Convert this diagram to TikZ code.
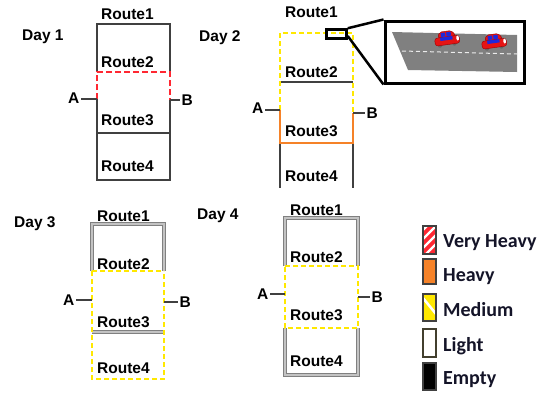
\documentclass[tikz,border=0pt]{standalone}
\usepackage{fontspec}
\setmainfont{Liberation Sans}
\newfontfamily\legendfont{Carlito}
\definecolor{roadgray}{RGB}{64,64,64}
\definecolor{lightout}{RGB}{128,128,128}
\definecolor{lightin}{RGB}{195,195,195}
\definecolor{vhred}{RGB}{255,40,50}
\definecolor{heavyorange}{RGB}{245,130,40}
\definecolor{medyellow}{RGB}{255,232,0}
\definecolor{legendtext}{RGB}{20,20,40}
\definecolor{asphalt}{RGB}{128,128,128}
\definecolor{carred}{RGB}{230,20,20}
\definecolor{carblue}{RGB}{30,40,220}
\begin{document}
\begin{tikzpicture}[x=1pt,y=-1pt,
  road/.style={draw=roadgray, line width=2.3pt, line join=miter},
  vheavy/.style={draw=vhred, line width=2.2pt, dash pattern=on 6pt off 3pt},
  heavy/.style={draw=heavyorange, line width=2.3pt},
  medium/.style={draw=medyellow, line width=2pt, dash pattern=on 5pt off 3pt},
  light/.style={draw=lightout, double=lightin, line width=1.5pt, double distance=1.2pt, line join=miter},
  stub/.style={draw=roadgray, line width=2.3pt},
  lbl/.style={font=\bfseries\fontsize{15.5}{18}\selectfont, text height=11pt, text depth=0pt, inner sep=1pt, anchor=west},
  pin/.style={font=\bfseries\fontsize{15.5}{18}\selectfont, text height=11pt, text depth=0pt, inner sep=1.5pt},
  legtxt/.style={font=\legendfont\bfseries\fontsize{20}{24}\selectfont, text=legendtext, text height=12.9pt, text depth=0pt, inner sep=0pt, anchor=west},
  swatch/.style={draw=black!75, line width=1.2pt},
  frame/.style={draw=black, line width=3pt},
]
\useasboundingbox (0,0) rectangle (559,392);

% ---------------- Day 1 ----------------
\node[lbl] (d1) at (21,35) {Day 1};
\coordinate (d1tl) at (97,24);  \coordinate (d1tr) at (170,24);
\coordinate (d1r2l) at (97,72); \coordinate (d1r2r) at (170,72);
\coordinate (d1a) at (97,99);   \coordinate (d1b) at (170,100);
\coordinate (d1r3l) at (97,133);\coordinate (d1r3r) at (170,133);
\coordinate (d1bl) at (97,180); \coordinate (d1br) at (170,180);
\draw[road] (d1r2l) -- (d1tl) -- (d1tr) -- (d1r2r);
\draw[road] (d1a) -- (d1bl) -- (d1br) -- (d1b);
\draw[road] (d1r3l) -- (d1r3r);
\draw[vheavy] (d1a) -- (d1r2l) -- (d1r2r) -- (d1b);
\node[lbl] (d1r1) at (100,14) {Route1};
\node[lbl] (d1r2) at (100,62) {Route2};
\node[lbl] (d1r3) at (100,120) {Route3};
\node[lbl] (d1r4) at (100,166) {Route4};
\node[pin, anchor=east] (d1A) at (81,98) {A};
\node[pin, anchor=west] (d1B) at (180,100) {B};
\draw[stub] (d1a) -- (d1a -| d1A.east);
\draw[stub] (d1b) -- (d1b -| d1B.west);

% ---------------- Day 2 ----------------
\node[lbl] (d2) at (198,36) {Day 2};
\coordinate (d2tl) at (280,33);  \coordinate (d2tr) at (353,33);
\coordinate (d2r2l) at (280,82); \coordinate (d2r2r) at (353,82);
\coordinate (d2a) at (280,110);  \coordinate (d2b) at (353,113);
\coordinate (d2r3l) at (280,143);\coordinate (d2r3r) at (353,143);
\coordinate (d2bl) at (280,188); \coordinate (d2br) at (353,188);
\draw[road] (d2r2l) -- (d2r2r);
\draw[road] (d2r3l) -- (d2bl);
\draw[road] (d2r3r) -- (d2br);
\draw[medium] (d2a) -- (d2tl) -- (d2tr) -- (d2b);
\draw[heavy] (d2a) -- (d2r3l) -- (d2r3r) -- (d2b);
\node[lbl] (d2r1) at (284,12) {Route1};
\node[lbl] (d2r2) at (284,72) {Route2};
\node[lbl] (d2r3) at (284,131) {Route3};
\node[lbl] (d2r4) at (284,176) {Route4};
\node[pin, anchor=east] (d2A) at (265,108) {A};
\node[pin, anchor=west] (d2B) at (365,113) {B};
\draw[stub] (d2a) -- (d2a -| d2A.east);
\draw[stub] (d2b) -- (d2b -| d2B.west);

% close-up of the traffic on Route1
\node[draw=black, line width=2.5pt, minimum width=20pt, minimum height=9pt, inner sep=0pt] (spot) at (336.5,34) {};
\node[frame, minimum width=139pt, minimum height=62pt, inner sep=0pt] (zoomview) at (454.5,52) {};
\draw[black, line width=2.5pt] (spot.north east) -- (zoomview.north west);
\draw[black, line width=2.5pt] ([yshift=-2pt]spot.east) -- (zoomview.south west);
\fill[asphalt] (392,32) -- (517,35) -- (517,72) -- (408,70) -- cycle;
\draw[white!85!gray, line width=1pt, dash pattern=on 4pt off 3pt] (402,51) -- (517,54);
\foreach \cx/\cy in {447/39, 494/42}{
  \begin{scope}[shift={(\cx,\cy)}, rotate=8, scale=1.12]
    \fill[black!60] (-7,5) circle (1.8pt) (6,5) circle (1.8pt);
    \filldraw[fill=carred, draw=red!60!black, line width=0.4pt, rounded corners=2.5pt] (-11,-2) rectangle (11,5);
    \filldraw[fill=carred, draw=red!60!black, line width=0.4pt, rounded corners=2pt] (-6,-7) -- (5,-7) -- (8,-2) -- (-8,-2) -- cycle;
    \fill[carblue] (-5,-6) rectangle (-1,-2.5);
    \fill[carblue] (0,-6) rectangle (4,-2.5);
    \fill[carblue] (-6,-2) rectangle (5,1);
    \fill[white] (9.5,0.5) ellipse (1.2pt and 2.2pt);
  \end{scope}
}

% ---------------- Day 3 ----------------
\node[lbl] (d3) at (13,222) {Day 3};
\coordinate (d3tl) at (92,224);  \coordinate (d3tr) at (164,224);
\coordinate (d3r2l) at (92,271); \coordinate (d3r2r) at (164,271);
\coordinate (d3a) at (92,300);   \coordinate (d3b) at (164,302);
\coordinate (d3r3l) at (92,332); \coordinate (d3r3r) at (164,332);
\coordinate (d3bl) at (92,379);  \coordinate (d3br) at (164,379);
\draw[light] (d3r2l) -- (d3tl) -- (d3tr) -- (d3r2r);
\draw[light] (d3r3l) -- (d3r3r);
\draw[medium] (d3r2l) -- (d3r2r);
\draw[medium] (d3r2l) -- (d3bl) -- (d3br) -- (d3r2r);
\node[lbl] (d3r1) at (96,216) {Route1};
\node[lbl] (d3r2) at (96,264) {Route2};
\node[lbl] (d3r3) at (96,322) {Route3};
\node[lbl] (d3r4) at (96,368) {Route4};
\node[pin, anchor=east] (d3A) at (76,300) {A};
\node[pin, anchor=west] (d3B) at (178,302) {B};
\draw[stub] (d3a) -- (d3a -| d3A.east);
\draw[stub] (d3b) -- (d3b -| d3B.west);

% ---------------- Day 4 ----------------
\node[lbl] (d4) at (196,214) {Day 4};
\coordinate (d4tl) at (285,218);  \coordinate (d4tr) at (358,218);
\coordinate (d4r2l) at (285,266); \coordinate (d4r2r) at (358,266);
\coordinate (d4a) at (285,294);   \coordinate (d4b) at (358,297);
\coordinate (d4r3l) at (285,328); \coordinate (d4r3r) at (358,328);
\coordinate (d4bl) at (285,375);  \coordinate (d4br) at (358,375);
\draw[light] (d4r2l) -- (d4tl) -- (d4tr) -- (d4r2r);
\draw[light] (d4r3l) -- (d4bl) -- (d4br) -- (d4r3r);
\draw[medium] (d4r2l) -- (d4r2r) -- (d4r3r) -- (d4r3l) -- cycle;
\node[lbl] (d4r1) at (289,210) {Route1};
\node[lbl] (d4r2) at (289,257) {Route2};
\node[lbl] (d4r3) at (289,315) {Route3};
\node[lbl] (d4r4) at (289,361) {Route4};
\node[pin, anchor=east] (d4A) at (270,294) {A};
\node[pin, anchor=west] (d4B) at (370,297) {B};
\draw[stub] (d4a) -- (d4a -| d4A.east);
\draw[stub] (d4b) -- (d4b -| d4B.west);

% ---------------- Legend ----------------
\begin{scope}
  \clip (423,226) rectangle (436,254);
  \fill[vhred] (423,226) rectangle (436,254);
  \foreach \d in {-6,3,12,21,30}
    \draw[white, line width=2.2pt] (420,254-\d) -- ++(18,-18);
\end{scope}
\draw[swatch] (423,226) rectangle (436,254);
\filldraw[swatch, fill=heavyorange] (423,259) rectangle (436,284);
\begin{scope}
  \clip (423,294) rectangle (436,321);
  \fill[medyellow] (423,294) rectangle (436,321);
  \draw[white, line width=2.5pt] (423,298) -- (436,314);
\end{scope}
\draw[swatch] (423,294) rectangle (436,321);
\filldraw[swatch, draw=black!70!olive, fill=white] (423,329) rectangle (436,357);
\filldraw[swatch, fill=black] (423,363) rectangle (436,390);
\node[legtxt] (lvh) at (443,241) {Very Heavy};
\node[legtxt] (lh) at (443,275) {Heavy};
\node[legtxt] (lm) at (443,310) {Medium};
\node[legtxt] (ll) at (443,345) {Light};
\node[legtxt] (le) at (443,378) {Empty};
\end{tikzpicture}
\end{document}
